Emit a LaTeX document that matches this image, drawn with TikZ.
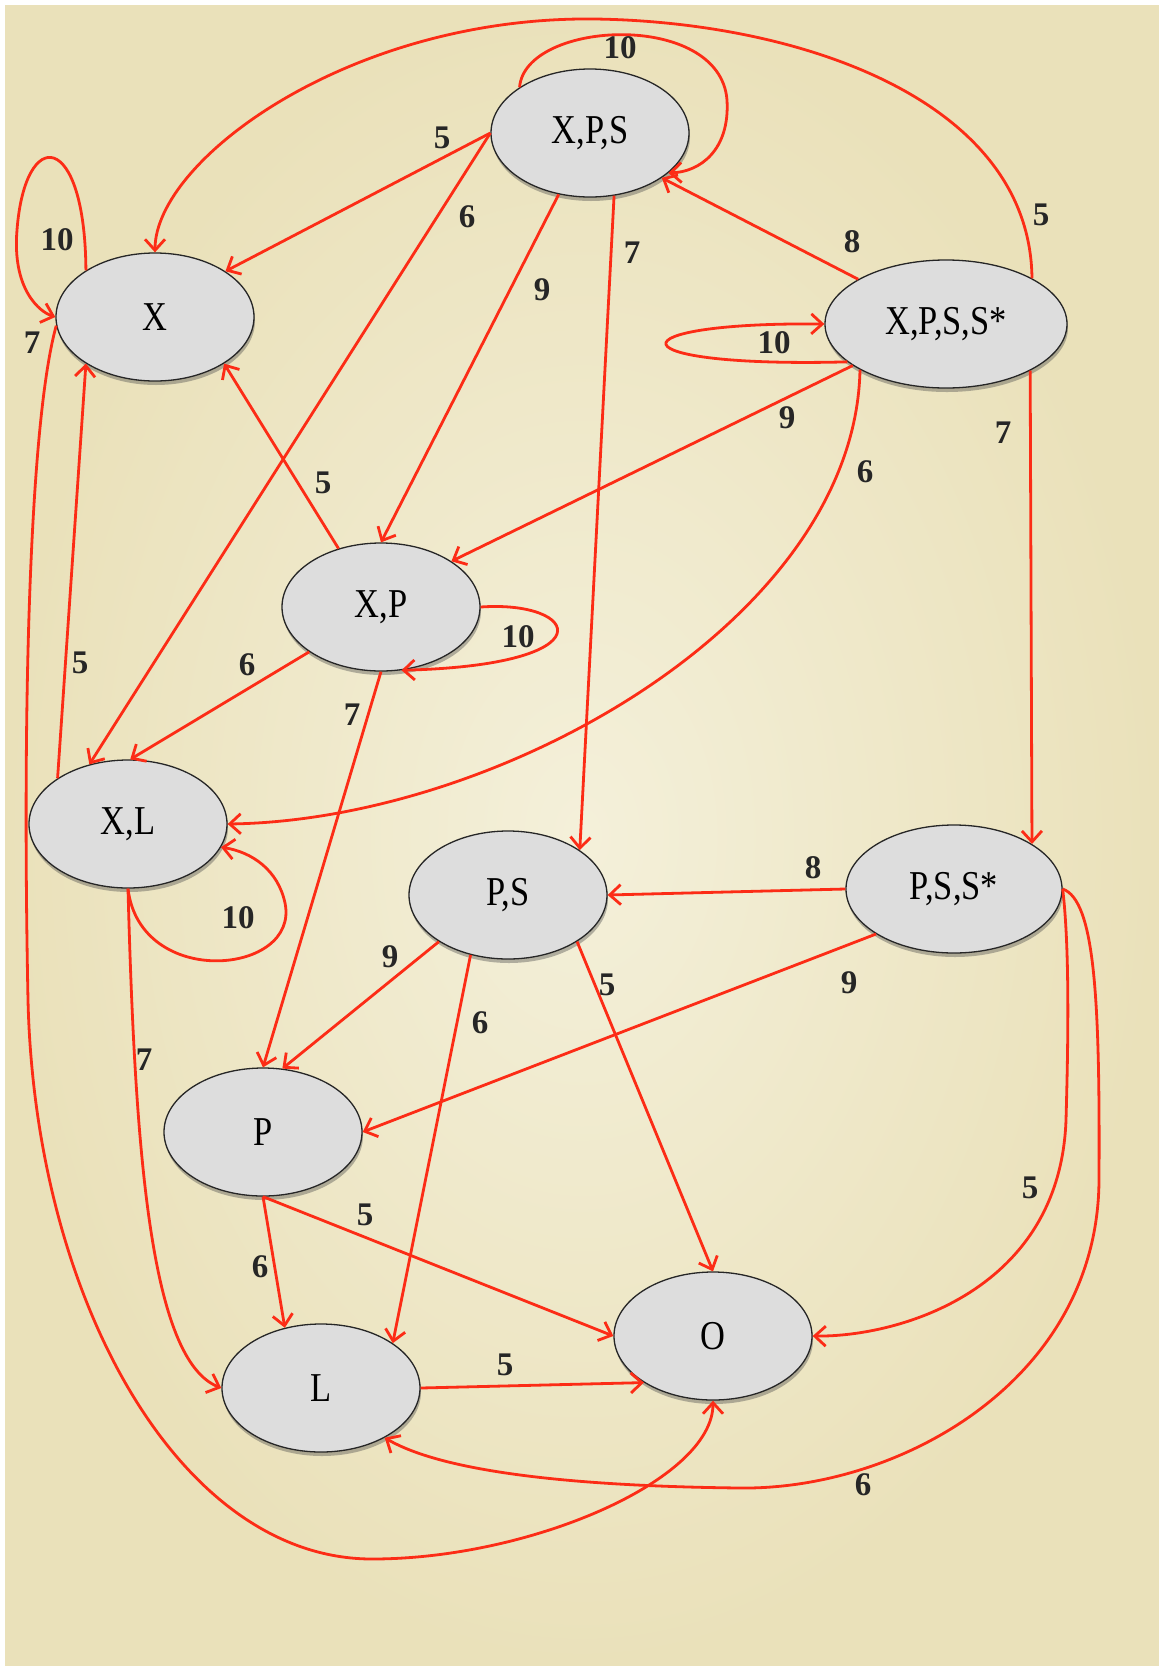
\documentclass[tikz,border=0pt]{standalone}
\usepackage{fontspec}
\setmainfont{Liberation Serif}
\newfontfamily\statefont{Liberation Serif}[FakeStretch=0.84]
\usetikzlibrary{arrows.meta}
\usetikzlibrary{shapes.geometric}
\usetikzlibrary{shadows}

\definecolor{parchin}{RGB}{244,240,218}
\definecolor{parchout}{RGB}{234,225,186}
\definecolor{statefill}{RGB}{221,221,221}
\definecolor{transred}{RGB}{252,44,22}

\tikzset{
  state/.style={ellipse, draw=black!85, line width=1.3pt, fill=statefill,
    minimum width=198pt, minimum height=128pt, inner sep=0pt,
    font=\statefont\fontsize{41}{44}\selectfont,
    drop shadow={shadow xshift=1pt, shadow yshift=-4pt, opacity=0.4, fill=black!70}},
  trans/.style={draw=transred, line width=2.8pt,
    -{Straight Barb[length=11pt,width=20pt]}},
  wt/.style={font=\bfseries\fontsize{33}{36}\selectfont, text=black!85, inner sep=0pt}
}

\begin{document}
\begin{tikzpicture}[x=1pt,y=-1pt]

    % paper
    \useasboundingbox (0,0) rectangle (1159,1666);
    \fill[white] (0,0) rectangle (1159,1666);
    \shade[inner color=parchin, outer color=parchout] (5,5) rectangle (1159,1666);

    % states
    \node[state] (X)    at (155,317)  {X};
    \node[state] (XPS)  at (590,133)  {X,P,S};
    \node[state, minimum width=242pt] (XPSS) at (946,324) {X,P,S,S*};
    \node[state] (XP)   at (381,607)  {X,P};
    \node[state] (XL)   at (128,824)  {X,L};
    \node[state] (PS)   at (508,895)  {P,S};
    \node[state, minimum width=216pt] (PSS) at (954,889) {P,S,S*};
    \node[state] (P)    at (263,1132) {P};
    \node[state] (L)    at (321,1388) {L};
    \node[state] (O)    at (713,1336) {O};

    % from X,P,S
    \draw[trans] (XPS.180) -- (X.33);
    \draw[trans] (XPS.180) -- (XL.123);
    \draw[trans] (XPS.-117) -- (XP.90);
    \draw[trans] (XPS.-69) -- (PS.32);
    \draw[trans] (XPS.147) .. controls (525,20) and (720,10) .. (727,100)
                 .. controls (730,150) and (700,172) .. (XPS.-27);

    % from X,P,S,S*
    \draw[trans] (XPSS.153) -- (XPS.-32);
    \draw[trans] (XPSS.28) .. controls (1030,100) and (800,22) .. (595,19)
                 .. controls (350,16) and (155,160) .. (X.90);
    \draw[trans] (XPSS.201) .. controls (610,368) and (610,322) .. (XPSS.180);
    \draw[trans] (XPSS.204) -- (XP.33);
    \draw[trans] (XPSS.208) .. controls (855,620) and (500,820) .. (XL.0);
    \draw[trans] (XPSS.-29) -- (PSS.30);

    % from X,P
    \draw[trans] (XP.126) -- (X.-34);
    \draw[trans] (XP.212) -- (XL.88);
    \draw[trans] (XP.0) .. controls (580,600) and (610,665) .. (XP.-72);
    \draw[trans] (XP.-90) -- (P.90);

    % from X,L
    \draw[trans] (XL.147) -- (X.214);
    \draw[trans] (XL.-90) .. controls (140,990) and (300,975) .. (285,903)
                 .. controls (278,870) and (252,852) .. (XL.-14);
    \draw[trans] (XL.-90) .. controls (135,1150) and (150,1360) .. (L.180);

    % from X
    \draw[trans] (X.146) .. controls (85,130) and (25,125) .. (17,230)
                 .. controls (12,290) and (40,312) .. (X.180);
    \draw[trans] (X.185) .. controls (30,420) and (22,700) .. (28,1000)
                 .. controls (35,1300) and (180,1559) .. (372,1559)
                 .. controls (530,1559) and (713,1480) .. (O.-90);

    % from P,S,S*
    \draw[trans] (PSS.180) -- (PS.0);
    \draw[trans] (PSS.210) -- (P.0);
    \draw[trans] (PSS.0) .. controls (1070,950) and (1068,1050) .. (1066,1120)
                 .. controls (1060,1290) and (900,1337) .. (O.0);
    \draw[trans] (PSS.0) .. controls (1095,900) and (1100,1000) .. (1099,1180)
                 .. controls (1098,1380) and (900,1490) .. (740,1488)
                 .. controls (560,1486) and (440,1470) .. (L.-38);

    % from P,S
    \draw[trans] (PS.214) -- (P.73);
    \draw[trans] (PS.238) -- (L.32);
    \draw[trans] (PS.-34) -- (O.90);

    % from P and L
    \draw[trans] (P.-90) -- (L.121);
    \draw[trans] (P.-90) -- (O.180);
    \draw[trans] (L.0) -- (O.214);

    % weights
    \foreach \i/\a/\b/\t in {1/442/138/5, 2/467/217/6, 3/542/290/9, 4/632/253/7,
        5/620/48/10, 6/852/242/8, 7/1041/215/5, 8/774/343/10, 9/787/418/9,
        10/865/472/6, 11/1003/433/7, 12/323/483/5, 13/247/665/6, 14/518/637/10,
        15/352/715/7, 16/80/663/5, 17/238/918/10, 18/144/1060/7, 19/57/240/10,
        20/32/343/7, 21/813/868/8, 22/849/983/9, 23/1030/1188/5, 24/863/1485/6,
        25/390/957/9, 26/480/1023/6, 27/607/985/5, 28/260/1267/6,
        29/365/1215/5, 30/505/1365/5}
        \node[wt] (w\i) at (\a,\b) {\t};

\end{tikzpicture}
\end{document}
